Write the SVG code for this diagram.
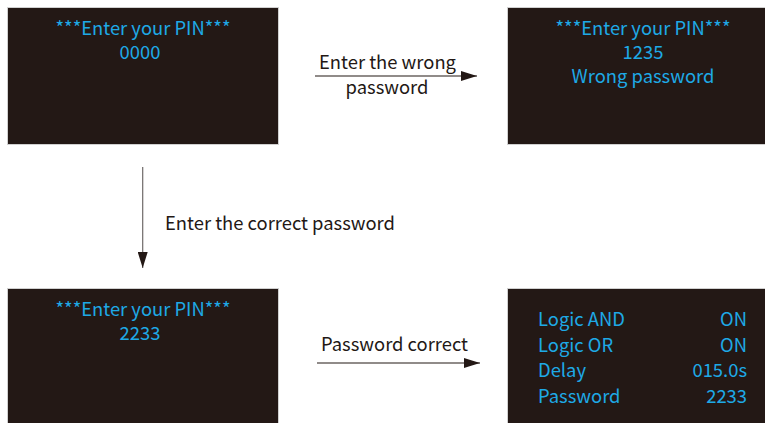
<svg xmlns="http://www.w3.org/2000/svg" width="765" height="423" viewBox="0 0 765 423">
  <style>
    .screen { fill: #231815; stroke: #d0d0d0; stroke-width: 1; }
    .lcd { font-family: "Noto Sans CJK SC", "Noto Sans", sans-serif; font-size: 18.4px; fill: #1ea9e6; }
    .mid { text-anchor: middle; }
    .end { text-anchor: end; }
    .lbl { font-family: "Noto Sans CJK SC", "Noto Sans", sans-serif; font-size: 18.4px; fill: #231815; }
    .wire { stroke: #231815; stroke-width: 1.2; fill: none; }
    .wire.grey { stroke: #6e6a69; }
  </style>
  <defs>
    <marker id="head" markerWidth="16" markerHeight="10" refX="16" refY="5" orient="auto" markerUnits="userSpaceOnUse">
      <path d="M0,0 L16,5 L0,10 Z" fill="#231815"/>
    </marker>
  </defs>
  <rect width="765" height="423" fill="#ffffff"/>

  <!-- PIN entry screen -->
  <g id="screen-pin-entry">
    <rect class="screen" x="7.5" y="7.5" width="271" height="137"/>
    <text class="lcd mid" x="143" y="35">***Enter your PIN***</text>
    <text class="lcd mid" x="140" y="59">0000</text>
  </g>

  <!-- wrong PIN screen -->
  <g id="screen-wrong">
    <rect class="screen" x="507.5" y="7.5" width="262" height="137"/>
    <text class="lcd mid" x="643" y="35">***Enter your PIN***</text>
    <text class="lcd mid" x="643" y="59">1235</text>
    <text class="lcd mid" x="643" y="83">Wrong password</text>
  </g>

  <!-- correct PIN screen -->
  <g id="screen-correct">
    <rect class="screen" x="7.5" y="288.5" width="271" height="140"/>
    <text class="lcd mid" x="143" y="316">***Enter your PIN***</text>
    <text class="lcd mid" x="140" y="340">2233</text>
  </g>

  <!-- settings screen -->
  <g id="screen-settings">
    <rect class="screen" x="507.5" y="288.5" width="262" height="140"/>
    <text class="lcd" x="538" y="326">Logic AND</text>
    <text class="lcd end" x="747" y="326">ON</text>
    <text class="lcd" x="538" y="351.5">Logic OR</text>
    <text class="lcd end" x="747" y="351.5">ON</text>
    <text class="lcd" x="538" y="377">Delay</text>
    <text class="lcd end" x="747" y="377">015.0s</text>
    <text class="lcd" x="538" y="402.5">Password</text>
    <text class="lcd end" x="747" y="402.5">2233</text>
  </g>

  <!-- transitions -->
  <g id="connectors">
    <line class="wire" x1="315" y1="76" x2="477" y2="76" marker-end="url(#head)"/>
    <text class="lbl mid" x="387.5" y="69">Enter the wrong</text>
    <text class="lbl mid" x="387" y="94">password</text>

    <line class="wire grey" x1="142.7" y1="167" x2="142.7" y2="268" marker-end="url(#head)"/>
    <text class="lbl" x="165" y="230">Enter the correct password</text>

    <line class="wire" x1="317" y1="363" x2="480" y2="363" marker-end="url(#head)"/>
    <text class="lbl" x="321" y="351">Password correct</text>
  </g>
</svg>
